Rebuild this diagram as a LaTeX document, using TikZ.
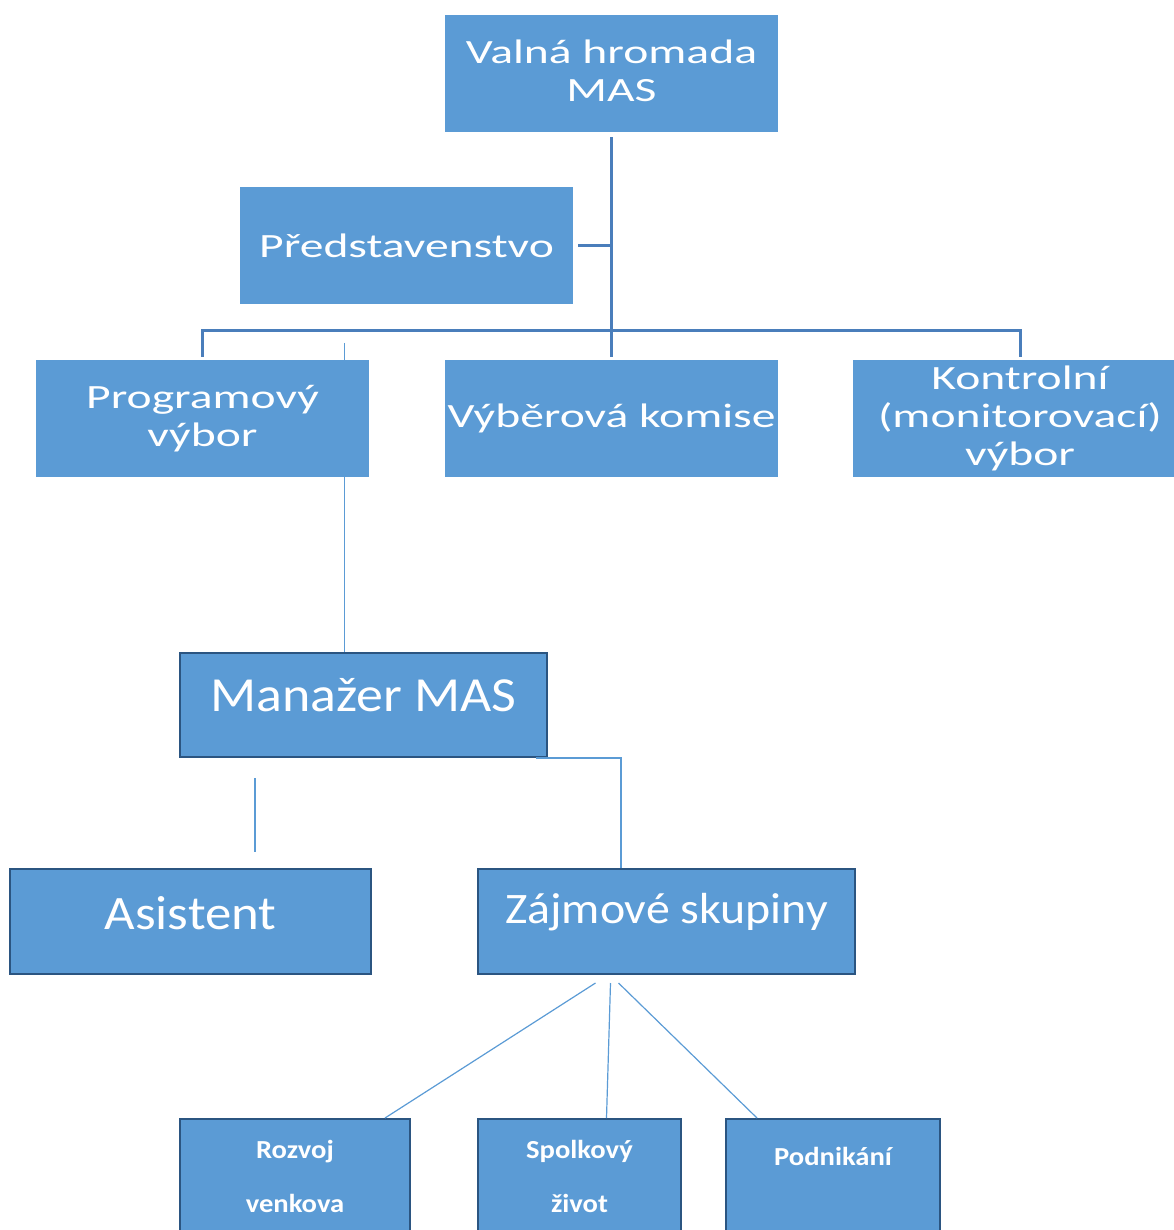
\documentclass[tikz,border=0pt]{standalone}
\usepackage{fontspec}
\setmainfont{Carlito}
\newfontfamily\widefont[FakeStretch=1.4]{Carlito}
\newfontfamily\midfont[FakeStretch=1.1]{Carlito}
\newfontfamily\subfont[FakeStretch=1.1]{Carlito Bold}
\usetikzlibrary{calc}
\definecolor{boxblue}{HTML}{5B9BD5}
\definecolor{edgeblue}{HTML}{2B5581}
\definecolor{trunkblue}{HTML}{4A7EBB}
\begin{document}
\begin{tikzpicture}[x=1pt,y=-1pt,
  topbox/.style={fill=boxblue,text=white,align=center,inner sep=0pt,
    minimum width=333pt,minimum height=117pt,font=\widefont\fontsize{34}{38}\selectfont},
  midbox/.style={fill=boxblue,draw=edgeblue,line width=2pt,text=white,align=center,
    inner sep=0pt,minimum height=105pt,font=\midfont\fontsize{48}{54}\selectfont},
  subbox/.style={midbox,font=\subfont\fontsize{26}{54}\selectfont},
  trunk/.style={trunkblue,line width=3pt},
  twig/.style={boxblue,line width=1.2pt}]
\useasboundingbox (0,0) rectangle (1173,1230);
% upper level
\node[topbox,text depth=5pt] (valna) at (611.5,73.5) {Valná hromada\\MAS};
\node[topbox] (predst) at (406.5,245.5) {Představenstvo};
\node[topbox] (program) at (202.5,418.5) {Programový\\výbor};
\node[topbox] (vyber) at (611.5,418.5) {Výběrová komise};
\node[topbox,minimum width=334pt] (kontrol) at (1020,418.5) {Kontrolní\\(monitorovací)\\výbor};
% office
\node[midbox,minimum width=367pt,minimum height=104pt,text depth=20pt,
  font=\midfont\fontsize{49}{54}\selectfont] (manazer) at (363.5,705) {Manažer MAS};
\node[midbox,minimum width=361pt,text depth=17pt] (asistent) at (190.5,921.5) {Asistent};
\node[midbox,minimum width=377pt,text depth=26pt,
  font=\midfont\fontsize{43.5}{54}\selectfont] (zajmove) at (666.5,921.5) {Zájmové skupiny};
% groups
\node[subbox,minimum width=230pt,minimum height=114pt] (rozvoj) at (295,1176) {Rozvoj\\venkova};
\node[subbox,minimum width=203pt,minimum height=114pt] (spolek) at (579.5,1176) {Spolkový\\život};
\node[subbox,minimum width=214pt,minimum height=130pt,text depth=56pt] (podnik) at (833,1184) {Podnikání};
% trunk lines
\draw[trunk,shorten <=5pt,shorten >=3pt] (valna.south) -- (vyber.north);
\draw[trunk,shorten <=5pt] (predst.east) -- (predst.east -| valna.south);
\draw[trunk,shorten <=3pt,shorten >=3pt] (program.north) -- ++(0,-29) -| (kontrol.north);
% thin lines
\coordinate (progdrop) at ($(program.north east)+(-25,-17)$);
\draw[twig] (progdrop) -- (progdrop |- manazer.north);
\coordinate (asdrop) at ($(manazer.south west)+(76,20)$);
\draw[twig,shorten >=16pt] (asdrop) -- (asdrop |- asistent.north);
\coordinate (zdrop) at ($(zajmove.north west)+(144,0)$);
\draw[twig] ($(manazer.south east)+(-12,0)$) -| (zdrop);
\draw[twig] ($(zajmove.south)+(-71,8)$) -- ($(rozvoj.north east)+(-26,0)$);
\draw[twig] ($(zajmove.south)+(-56,8)$) -- ($(spolek.north)+(27,0)$);
\draw[twig] ($(zajmove.south)+(-48,8)$) -- ($(podnik.north west)+(32,0)$);
\end{tikzpicture}
\end{document}
